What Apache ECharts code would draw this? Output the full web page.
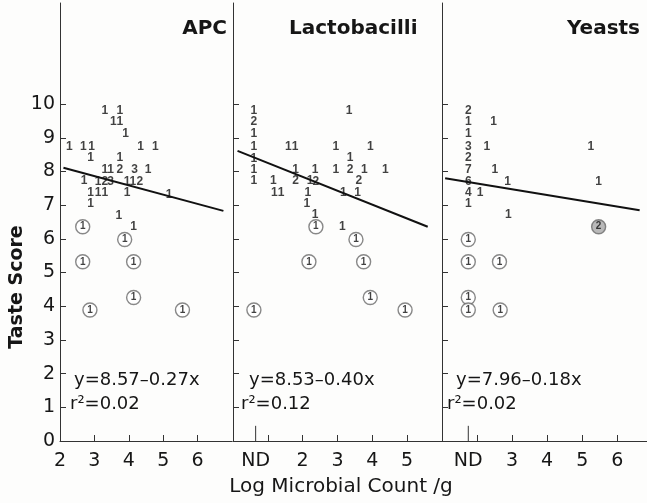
<!DOCTYPE html>
<html>
<head>
<meta charset="utf-8">
<script src="https://cdn.jsdelivr.net/npm/echarts@6/dist/echarts.min.js"></script>
<style>
  html, body { margin: 0; padding: 0; background: #fdfdfc; }
  #chart { width: 647px; height: 503px; }
</style>
</head>
<body>
<div id="chart"></div>
<script>
// panel titles + regression text
const panelTitles = ['APC', 'Lactobacilli', 'Yeasts']
const equations = ['y=8.57\u20130.27x', 'y=8.53\u20130.40x', 'y=7.96\u20130.18x']
const rSquared = ['r\u00b2=0.02', 'r\u00b2=0.12', 'r\u00b2=0.02']

// y axis labels
const yLabels = [0, 1, 2, 3, 4, 5, 6, 7, 8, 9, 10]

// x tick / label positions per panel (ND = not detected)
const apcTicks = [3, 4, 5, 6]
const apcLabels = [2, 3, 4, 5, 6]
const lactoTicks = [1, 2, 3, 4, 5]
const lactoLabels = [0.65, 2, 3, 4, 5]
const yeastTicks = [2, 3, 4, 5, 6]
const yeastLabels = [1.75, 3, 4, 5, 6]
const lactoND = 0.65
const yeastND = 1.75

// [log count, taste score, number of samples]
const apcPoints = [
    [3.30, 9.79, 1], [3.74, 9.79, 1],
    [3.55, 9.47, 1], [3.74, 9.47, 1],
    [3.91, 9.13, 1],
    [2.27, 8.73, 1], [2.68, 8.73, 1], [2.92, 8.73, 1], [4.34, 8.73, 1], [4.77, 8.73, 1],
    [2.89, 8.41, 1], [3.74, 8.41, 1],
    [3.30, 8.04, 1], [3.47, 8.04, 1], [3.74, 8.04, 2], [4.17, 8.04, 3], [4.56, 8.04, 1],
    [2.70, 7.72, 1], [3.11, 7.69, 1], [3.30, 7.69, 2], [3.47, 7.69, 3],
    [3.95, 7.69, 1], [4.12, 7.69, 1], [4.32, 7.69, 2],
    [2.89, 7.37, 1], [3.11, 7.37, 1], [3.30, 7.37, 1], [3.95, 7.37, 1],
    [5.17, 7.30, 1],
    [2.89, 7.03, 1],
    [3.71, 6.68, 1],
    [4.14, 6.36, 1]
]
const apcCircled = [
    [2.66, 6.36, 1], [3.88, 5.98, 1], [2.66, 5.32, 1], [4.14, 5.32, 1],
    [4.14, 4.26, 1], [2.87, 3.89, 1], [5.56, 3.89, 1]
]
const apcFit = [[2.1, 8.11], [6.75, 6.83]]

const lactoPoints = [
    [0.6, 9.80, 1], [0.6, 9.47, 2], [0.6, 9.11, 1], [0.6, 8.73, 1],
    [0.6, 8.39, 1], [0.6, 8.06, 1], [0.6, 7.72, 1],
    [3.33, 9.80, 1],
    [1.59, 8.73, 1], [1.78, 8.73, 1], [2.95, 8.73, 1], [3.94, 8.73, 1],
    [3.36, 8.42, 1],
    [1.80, 8.06, 1], [2.36, 8.06, 1], [2.95, 8.06, 1], [3.36, 8.06, 2], [3.77, 8.06, 1], [4.37, 8.06, 1],
    [1.16, 7.72, 1], [1.80, 7.72, 2], [2.21, 7.72, 1], [2.38, 7.70, 2], [3.61, 7.72, 2],
    [1.19, 7.37, 1], [1.38, 7.37, 1], [2.15, 7.37, 1], [3.17, 7.37, 1], [3.58, 7.37, 1],
    [2.12, 7.03, 1],
    [2.36, 6.71, 1],
    [3.14, 6.36, 1]
]
const lactoCircled = [
    [2.38, 6.36, 1], [3.53, 5.98, 1], [2.18, 5.32, 1], [3.75, 5.32, 1],
    [3.94, 4.26, 1], [4.94, 3.89, 1], [0.6, 3.89, 1]
]
const lactoFit = [[0.13, 8.61], [5.59, 6.36]]

const yeastPoints = [
    [1.75, 9.80, 2], [1.75, 9.47, 1], [1.75, 9.13, 1], [1.75, 8.75, 3], [1.75, 8.42, 2],
    [1.75, 8.06, 7], [1.75, 7.69, 6], [1.75, 7.37, 4], [1.75, 7.03, 1],
    [2.47, 9.47, 1], [2.28, 8.75, 1], [2.51, 8.06, 1], [2.87, 7.69, 1], [2.09, 7.37, 1],
    [2.89, 6.71, 1], [5.25, 8.75, 1], [5.47, 7.69, 1]
]
const yeastCircled = [
    [1.75, 5.98, 1], [1.75, 5.32, 1], [1.75, 4.26, 1], [1.75, 3.89, 1],
    [2.64, 5.32, 1], [2.66, 3.89, 1]
]
const yeastShaded = [[5.47, 6.36, 2]]
const yeastFit = [[1.09, 7.80], [6.64, 6.85]]

const font = '"DejaVu Sans", Verdana, sans-serif'
const markFont = '"Liberation Sans", Arial, sans-serif'
const ink = '#161616'

const grids = [
    { left: 60, top: 3, width: 172, height: 438 },
    { left: 233, top: 3, width: 209, height: 438 },
    { left: 442, top: 3, width: 205, height: 438 }
]

function xAxisFor(i, min, max, ticks, labels, nd) {
    return {
        type: 'value', gridIndex: i, min: min, max: max,
        splitLine: { show: false },
        axisLine: { lineStyle: { color: '#333', width: 1 } },
        axisTick: { inside: true, length: 6, customValues: ticks, lineStyle: { color: '#333' } },
        axisLabel: {
            customValues: labels, color: ink, fontSize: 19, fontFamily: font, margin: 11,
            formatter: v => (v === nd ? 'ND' : String(v))
        }
    }
}

function yAxisFor(i, showLabels) {
    return {
        type: 'value', gridIndex: i, min: 0, max: 13,
        splitLine: { show: false },
        axisLine: { lineStyle: { color: '#333', width: 1 } },
        axisTick: { inside: true, length: 6, customValues: [1, 2, 3, 4, 5, 6, 7, 8, 9, 10], lineStyle: { color: '#333' } },
        axisLabel: {
            show: showLabels, customValues: yLabels, color: ink, fontSize: 19, fontFamily: font, margin: 5
        }
    }
}

function countSeries(i, data) {
    return {
        type: 'scatter', xAxisIndex: i, yAxisIndex: i, data: data,
        symbolSize: 1, itemStyle: { color: 'transparent' }, z: 4,
        label: {
            show: true, position: 'inside', formatter: p => p.value[2],
            color: '#111', fontSize: 12, fontWeight: 'bold', fontFamily: markFont
        }
    }
}

function circledSeries(i, data, fill) {
    return {
        type: 'scatter', xAxisIndex: i, yAxisIndex: i, data: data,
        symbolSize: 14, z: 3,
        itemStyle: { color: fill, borderColor: '#6a6a6a', borderWidth: 1.4 },
        label: {
            show: true, position: 'inside', formatter: p => p.value[2],
            color: '#111', fontSize: 10, fontWeight: 'bold', fontFamily: markFont
        }
    }
}

function fitSeries(i, data) {
    return {
        type: 'line', xAxisIndex: i, yAxisIndex: i, data: data,
        symbol: 'none', z: 2, lineStyle: { color: '#111', width: 2 }
    }
}

function ndTick(i, x) {
    return {
        type: 'line', xAxisIndex: i, yAxisIndex: i, data: [[x, 0], [x, 0.45]],
        symbol: 'none', lineStyle: { color: '#333', width: 1 }
    }
}

function text(x, y, str, size, extra) {
    return {
        type: 'text', x: x, y: y,
        style: Object.assign({ text: str, fill: ink, font: 'normal ' + size + 'px ' + font }, extra || {})
    }
}

const chart = echarts.init(document.getElementById('chart'))
chart.setOption({
    backgroundColor: '#fdfdfc',
    animation: false,
    grid: grids,
    xAxis: [
        xAxisFor(0, 2, 7, apcTicks, apcLabels, null),
        xAxisFor(1, 0, 6, lactoTicks, lactoLabels, lactoND),
        xAxisFor(2, 1, 6.85, yeastTicks, yeastLabels, yeastND)
    ],
    yAxis: [yAxisFor(0, true), yAxisFor(1, false), yAxisFor(2, false)],
    series: [
        countSeries(0, apcPoints), circledSeries(0, apcCircled, '#fff'), fitSeries(0, apcFit),
        countSeries(1, lactoPoints), circledSeries(1, lactoCircled, '#fff'), fitSeries(1, lactoFit), ndTick(1, lactoND),
        countSeries(2, yeastPoints), circledSeries(2, yeastCircled, '#fff'), circledSeries(2, yeastShaded, '#a8a8a8'),
        fitSeries(2, yeastFit), ndTick(2, yeastND)
    ],
    graphic: [
        text(227, 29, panelTitles[0], 20, { align: 'right', verticalAlign: 'middle', font: 'bold 20px ' + font }),
        text(289, 29, panelTitles[1], 20, { verticalAlign: 'middle', font: 'bold 20px ' + font }),
        text(640, 29, panelTitles[2], 20, { align: 'right', verticalAlign: 'middle', font: 'bold 20px ' + font }),
        text(74, 380, equations[0], 18, { verticalAlign: 'middle' }),
        text(70, 404, rSquared[0], 18, { verticalAlign: 'middle' }),
        text(249, 380, equations[1], 18, { verticalAlign: 'middle' }),
        text(241, 404, rSquared[1], 18, { verticalAlign: 'middle' }),
        text(456, 380, equations[2], 18, { verticalAlign: 'middle' }),
        text(447, 404, rSquared[2], 18, { verticalAlign: 'middle' }),
        text(341, 487, 'Log Microbial Count /g', 20, { align: 'center', verticalAlign: 'middle' }),
        {
            type: 'text', x: 17, y: 287, rotation: Math.PI / 2,
            style: { text: 'Taste Score', fill: ink, font: 'bold 19px ' + font, align: 'center', verticalAlign: 'middle' }
        }
    ]
})
</script>
</body>
</html>
